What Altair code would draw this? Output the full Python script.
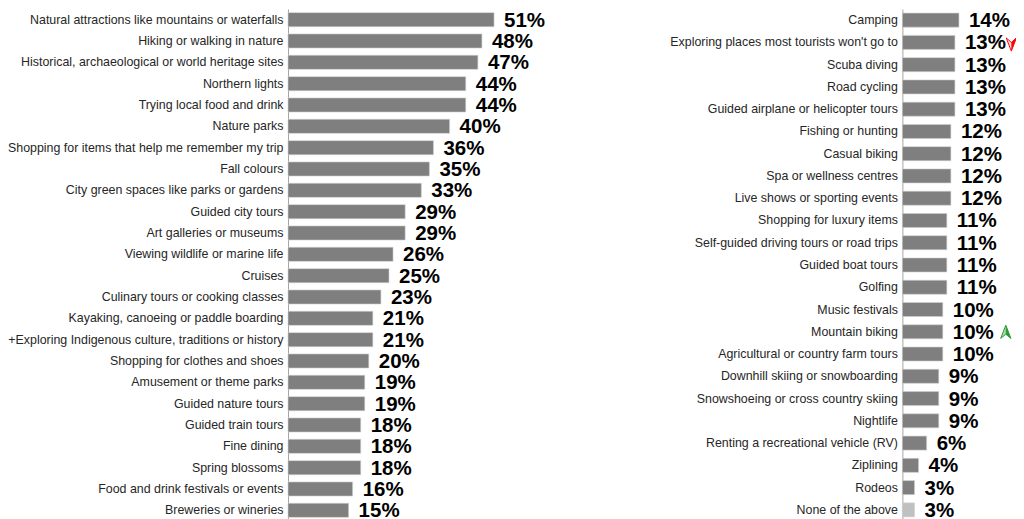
import altair as alt
import pandas as pd

left_categories = [
    "Natural attractions like mountains or waterfalls",
    "Hiking or walking in nature",
    "Historical, archaeological or world heritage sites",
    "Northern lights",
    "Trying local food and drink",
    "Nature parks",
    "Shopping for items that help me remember my trip",
    "Fall colours",
    "City green spaces like parks or gardens",
    "Guided city tours",
    "Art galleries or museums",
    "Viewing wildlife or marine life",
    "Cruises",
    "Culinary tours or cooking classes",
    "Kayaking, canoeing or paddle boarding",
    "+Exploring Indigenous culture, traditions or history",
    "Shopping for clothes and shoes",
    "Amusement or theme parks",
    "Guided nature tours",
    "Guided train tours",
    "Fine dining",
    "Spring blossoms",
    "Food and drink festivals or events",
    "Breweries or wineries",
]
left_values = [51, 48, 47, 44, 44, 40, 36, 35, 33, 29, 29, 26, 25, 23, 21, 21,
               20, 19, 19, 18, 18, 18, 16, 15]

right_categories = [
    "Camping",
    "Exploring places most tourists won't go to",
    "Scuba diving",
    "Road cycling",
    "Guided airplane or helicopter tours",
    "Fishing or hunting",
    "Casual biking",
    "Spa or wellness centres",
    "Live shows or sporting events",
    "Shopping for luxury items",
    "Self-guided driving tours or road trips",
    "Guided boat tours",
    "Golfing",
    "Music festivals",
    "Mountain biking",
    "Agricultural or country farm tours",
    "Downhill skiing or snowboarding",
    "Snowshoeing or cross country skiing",
    "Nightlife",
    "Renting a recreational vehicle (RV)",
    "Ziplining",
    "Rodeos",
    "None of the above",
]
right_values = [14, 13, 13, 13, 13, 12, 12, 12, 12, 11, 11, 11, 11, 10, 10, 10,
                9, 9, 9, 6, 4, 3, 3]
right_trend = ["", "down", "", "", "", "", "", "", "", "", "", "", "", "",
               "up", "", "", "", "", "", "", "", ""]

FONT = "Liberation Sans"
BAR = "#7f7f7f"
BAR_LIGHT = "#c0c0c0"
HEIGHT = 512
PX_PER_PCT = 4.04
LEFT_EXTENT = 280
RIGHT_EXTENT = 250

left_df = pd.DataFrame({"category": left_categories, "value": left_values})
left_df["label"] = left_df["value"].astype(str) + "%"
right_df = pd.DataFrame({"category": right_categories, "value": right_values,
                         "trend": right_trend})
right_df["label"] = right_df["value"].astype(str) + "%"


def panel(df, dmax, extent, pin):
    width = dmax * PX_PER_PCT
    base = alt.Chart(df).encode(
        y=alt.Y("category:N", sort=None,
                scale=alt.Scale(paddingInner=pin, paddingOuter=pin / 2),
                axis=alt.Axis(title=None, ticks=False, domain=True,
                              domainColor="#a6a6a6", domainWidth=1,
                              labelFont=FONT, labelFontSize=12.4,
                              labelColor="#262626", labelPadding=5,
                              labelLimit=400, minExtent=extent,
                              maxExtent=extent)),
        x=alt.X("value:Q", scale=alt.Scale(domain=[0, dmax]), axis=None),
    )
    bars = base.mark_bar(stroke="#d0d0d0", strokeWidth=0.6).encode(
        color=alt.condition(alt.datum.category == "None of the above",
                            alt.value(BAR_LIGHT), alt.value(BAR))
    )
    text = base.mark_text(align="left", baseline="middle", dx=10, dy=1,
                          font=FONT, fontSize=20.5, fontWeight="bold",
                          color="#000000").encode(text="label:N")
    return base, [bars, text], width


lbase, llayers, lw = panel(left_df, 65, LEFT_EXTENT, 0.34)
left = alt.layer(*llayers).properties(width=lw, height=HEIGHT)

rbase, rlayers, rw = panel(right_df, 25, RIGHT_EXTENT, 0.37)

DOWN_OUT = "M 17.1 -1.5 L 18.8 2.9 L 20.5 -1.5 L 18.8 0 Z"
DOWN_HALF = "M 18.8 0 L 20.5 -1.5 L 18.8 2.9 Z"
UP_OUT = "M 19.3 2.2 L 21 -2.2 L 22.7 2.2 L 21 0.8 Z"
UP_HALF = "M 21 -2.2 L 22.7 2.2 L 21 0.8 Z"

down_o = rbase.transform_filter(alt.datum.trend == "down").mark_point(
    shape=DOWN_OUT, size=36, filled=True, fill="#ffe5e5", stroke="#ff0000",
    strokeWidth=1, opacity=1)
down_h = rbase.transform_filter(alt.datum.trend == "down").mark_point(
    shape=DOWN_HALF, size=36, filled=True, fill="#ff0000", strokeWidth=0,
    opacity=1)
up_o = rbase.transform_filter(alt.datum.trend == "up").mark_point(
    shape=UP_OUT, size=36, filled=True, fill="#a9dca9", stroke="#2e9a3a",
    strokeWidth=1, opacity=1)
up_h = rbase.transform_filter(alt.datum.trend == "up").mark_point(
    shape=UP_HALF, size=36, filled=True, fill="#2e9a3a", strokeWidth=0,
    opacity=1)

right = alt.layer(*rlayers, down_o, down_h, up_o, up_h).properties(
    width=rw, height=HEIGHT)

spacing = 902 - 8 - LEFT_EXTENT - lw - RIGHT_EXTENT

chart = alt.hconcat(left, right, spacing=spacing).properties(
    autosize=alt.AutoSizeParams(type="none"),
    padding={"left": LEFT_EXTENT, "top": 1, "right": 1008 - LEFT_EXTENT,
             "bottom": 502}
).configure_view(stroke=None)

chart.save("out.html", embed_options={"renderer": "svg", "actions": False})
